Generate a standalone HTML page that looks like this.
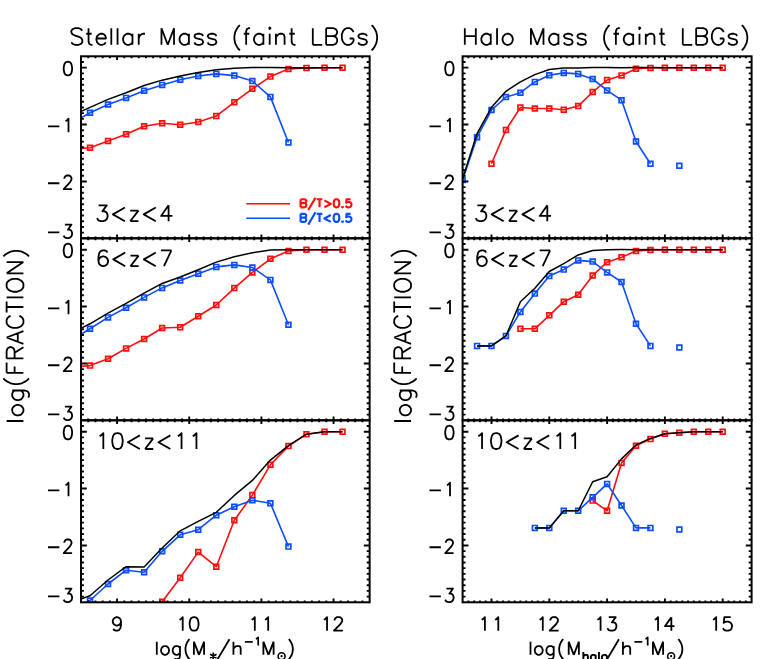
<!DOCTYPE html>
<html><head><meta charset="utf-8"><title>Fractions of faint LBGs</title>
<style>html,body{margin:0;padding:0;background:#fff;font-family:"Liberation Sans",sans-serif}svg{display:block}</style>
</head><body>
<svg width="763" height="659" viewBox="0 0 763 659">
<rect width="763" height="659" fill="#fff"/>
<defs>
<clipPath id="c00"><rect x="81.00" y="56.30" width="288.64" height="182.00"/></clipPath>
<clipPath id="c01"><rect x="81.00" y="238.30" width="288.64" height="182.00"/></clipPath>
<clipPath id="c02"><rect x="81.00" y="420.30" width="288.64" height="182.00"/></clipPath>
<clipPath id="c10"><rect x="462.60" y="56.30" width="289.00" height="182.00"/></clipPath>
<clipPath id="c11"><rect x="462.60" y="238.30" width="289.00" height="182.00"/></clipPath>
<clipPath id="c12"><rect x="462.60" y="420.30" width="289.00" height="182.00"/></clipPath>
</defs>
<polyline points="71.96,149.00 90.00,147.80 108.04,140.90 126.08,134.20 144.12,126.20 162.16,123.20 180.20,124.80 198.24,122.00 216.28,116.10 234.32,102.20 252.36,88.80 270.40,76.60 288.44,69.00 306.48,67.90 324.52,67.70 342.56,67.70" fill="none" stroke="#ff0c0c" stroke-width="1.60" stroke-linejoin="round" clip-path="url(#c00)"/>
<path d="M69.56 146.60h4.80v4.80h-4.80z M87.60 145.40h4.80v4.80h-4.80z M105.64 138.50h4.80v4.80h-4.80z M123.68 131.80h4.80v4.80h-4.80z M141.72 123.80h4.80v4.80h-4.80z M159.76 120.80h4.80v4.80h-4.80z M177.80 122.40h4.80v4.80h-4.80z M195.84 119.60h4.80v4.80h-4.80z M213.88 113.70h4.80v4.80h-4.80z M231.92 99.80h4.80v4.80h-4.80z M249.96 86.40h4.80v4.80h-4.80z M268.00 74.20h4.80v4.80h-4.80z M286.04 66.60h4.80v4.80h-4.80z M304.08 65.50h4.80v4.80h-4.80z M322.12 65.30h4.80v4.80h-4.80z M340.16 65.30h4.80v4.80h-4.80z" fill="none" stroke="#ff0c0c" stroke-width="1.7" clip-path="url(#c00)"/>
<polyline points="71.96,123.00 90.00,112.80 108.04,104.50 126.08,97.90 144.12,90.80 162.16,84.90 180.20,79.80 198.24,76.00 216.28,73.90 234.32,75.60 252.36,81.10 270.40,96.90 288.44,142.50" fill="none" stroke="#0a4cff" stroke-width="1.60" stroke-linejoin="round" clip-path="url(#c00)"/>
<path d="M69.56 120.60h4.80v4.80h-4.80z M87.60 110.40h4.80v4.80h-4.80z M105.64 102.10h4.80v4.80h-4.80z M123.68 95.50h4.80v4.80h-4.80z M141.72 88.40h4.80v4.80h-4.80z M159.76 82.50h4.80v4.80h-4.80z M177.80 77.40h4.80v4.80h-4.80z M195.84 73.60h4.80v4.80h-4.80z M213.88 71.50h4.80v4.80h-4.80z M231.92 73.20h4.80v4.80h-4.80z M249.96 78.70h4.80v4.80h-4.80z M268.00 94.50h4.80v4.80h-4.80z M286.04 140.10h4.80v4.80h-4.80z" fill="none" stroke="#0a4cff" stroke-width="1.7" clip-path="url(#c00)"/>
<polyline points="71.96,115.61 90.00,107.44 108.04,99.40 126.08,92.79 144.12,85.52 162.16,80.15 180.20,76.10 198.24,72.43 216.28,69.79 234.32,68.36 252.36,67.53 270.40,67.60 288.44,67.77 306.48,67.90 324.52,67.70 342.56,67.70" fill="none" stroke="#000" stroke-width="1.50" stroke-linejoin="round" clip-path="url(#c00)"/>
<polyline points="71.96,367.20 90.00,365.60 108.04,358.75 126.08,348.40 144.12,339.00 162.16,328.00 180.20,327.20 198.24,316.20 216.28,305.00 234.32,288.10 252.36,272.40 270.40,258.80 288.44,251.00 306.48,249.80 324.52,249.70 342.56,249.70" fill="none" stroke="#ff0c0c" stroke-width="1.60" stroke-linejoin="round" clip-path="url(#c01)"/>
<path d="M69.56 364.80h4.80v4.80h-4.80z M87.60 363.20h4.80v4.80h-4.80z M105.64 356.35h4.80v4.80h-4.80z M123.68 346.00h4.80v4.80h-4.80z M141.72 336.60h4.80v4.80h-4.80z M159.76 325.60h4.80v4.80h-4.80z M177.80 324.80h4.80v4.80h-4.80z M195.84 313.80h4.80v4.80h-4.80z M213.88 302.60h4.80v4.80h-4.80z M231.92 285.70h4.80v4.80h-4.80z M249.96 270.00h4.80v4.80h-4.80z M268.00 256.40h4.80v4.80h-4.80z M286.04 248.60h4.80v4.80h-4.80z M304.08 247.40h4.80v4.80h-4.80z M322.12 247.30h4.80v4.80h-4.80z M340.16 247.30h4.80v4.80h-4.80z" fill="none" stroke="#ff0c0c" stroke-width="1.7" clip-path="url(#c01)"/>
<polyline points="71.96,339.80 90.00,328.80 108.04,317.40 126.08,307.80 144.12,297.40 162.16,287.90 180.20,280.50 198.24,273.80 216.28,266.90 234.32,264.90 252.36,267.50 270.40,279.90 288.44,324.70" fill="none" stroke="#0a4cff" stroke-width="1.60" stroke-linejoin="round" clip-path="url(#c01)"/>
<path d="M69.56 337.40h4.80v4.80h-4.80z M87.60 326.40h4.80v4.80h-4.80z M105.64 315.00h4.80v4.80h-4.80z M123.68 305.40h4.80v4.80h-4.80z M141.72 295.00h4.80v4.80h-4.80z M159.76 285.50h4.80v4.80h-4.80z M177.80 278.10h4.80v4.80h-4.80z M195.84 271.40h4.80v4.80h-4.80z M213.88 264.50h4.80v4.80h-4.80z M231.92 262.50h4.80v4.80h-4.80z M249.96 265.10h4.80v4.80h-4.80z M268.00 277.50h4.80v4.80h-4.80z M286.04 322.30h4.80v4.80h-4.80z" fill="none" stroke="#0a4cff" stroke-width="1.7" clip-path="url(#c01)"/>
<polyline points="71.96,332.76 90.00,323.78 108.04,313.16 126.08,303.44 144.12,293.19 162.16,283.45 180.20,277.03 198.24,269.72 216.28,262.11 234.32,256.75 252.36,252.71 270.40,250.04 288.44,249.78 306.48,249.80 324.52,249.70 342.56,249.70" fill="none" stroke="#000" stroke-width="1.50" stroke-linejoin="round" clip-path="url(#c01)"/>
<polyline points="144.12,640.00 162.16,601.70 180.20,577.70 198.24,552.10 216.28,566.70 234.32,520.30 252.36,495.10 270.40,464.80 288.44,446.10 306.48,434.20 324.52,431.80 342.56,431.70" fill="none" stroke="#ff0c0c" stroke-width="1.60" stroke-linejoin="round" clip-path="url(#c02)"/>
<path d="M141.72 637.60h4.80v4.80h-4.80z M159.76 599.30h4.80v4.80h-4.80z M177.80 575.30h4.80v4.80h-4.80z M195.84 549.70h4.80v4.80h-4.80z M213.88 564.30h4.80v4.80h-4.80z M231.92 517.90h4.80v4.80h-4.80z M249.96 492.70h4.80v4.80h-4.80z M268.00 462.40h4.80v4.80h-4.80z M286.04 443.70h4.80v4.80h-4.80z M304.08 431.80h4.80v4.80h-4.80z M322.12 429.40h4.80v4.80h-4.80z M340.16 429.30h4.80v4.80h-4.80z" fill="none" stroke="#ff0c0c" stroke-width="1.7" clip-path="url(#c02)"/>
<polyline points="71.96,610.00 90.00,600.50 108.04,584.00 126.08,570.20 144.12,572.20 162.16,551.30 180.20,534.80 198.24,529.70 216.28,515.20 234.32,506.70 252.36,500.20 270.40,503.20 288.44,546.60" fill="none" stroke="#0a4cff" stroke-width="1.60" stroke-linejoin="round" clip-path="url(#c02)"/>
<path d="M69.56 607.60h4.80v4.80h-4.80z M87.60 598.10h4.80v4.80h-4.80z M105.64 581.60h4.80v4.80h-4.80z M123.68 567.80h4.80v4.80h-4.80z M141.72 569.80h4.80v4.80h-4.80z M159.76 548.90h4.80v4.80h-4.80z M177.80 532.40h4.80v4.80h-4.80z M195.84 527.30h4.80v4.80h-4.80z M213.88 512.80h4.80v4.80h-4.80z M231.92 504.30h4.80v4.80h-4.80z M249.96 497.80h4.80v4.80h-4.80z M268.00 500.80h4.80v4.80h-4.80z M286.04 544.20h4.80v4.80h-4.80z" fill="none" stroke="#0a4cff" stroke-width="1.7" clip-path="url(#c02)"/>
<polyline points="71.96,602.20 90.00,595.80 108.04,580.00 126.08,566.70 144.12,567.00 162.16,548.00 180.20,530.79 198.24,521.32 216.28,512.31 234.32,495.45 252.36,480.40 270.40,460.07 288.44,445.68 306.48,434.20 324.52,431.80 342.56,431.70" fill="none" stroke="#000" stroke-width="1.50" stroke-linejoin="round" clip-path="url(#c02)"/>
<polyline points="491.50,163.70 505.95,129.90 520.40,107.50 534.85,108.50 549.30,108.50 563.75,109.80 578.20,106.10 592.65,92.00 607.10,80.10 621.55,75.40 636.00,68.80 650.45,67.90 664.90,67.70 679.35,67.70 693.80,67.70 708.25,67.70 722.70,67.70" fill="none" stroke="#ff0c0c" stroke-width="1.60" stroke-linejoin="round" clip-path="url(#c10)"/>
<path d="M489.10 161.30h4.80v4.80h-4.80z M503.55 127.50h4.80v4.80h-4.80z M518.00 105.10h4.80v4.80h-4.80z M532.45 106.10h4.80v4.80h-4.80z M546.90 106.10h4.80v4.80h-4.80z M561.35 107.40h4.80v4.80h-4.80z M575.80 103.70h4.80v4.80h-4.80z M590.25 89.60h4.80v4.80h-4.80z M604.70 77.70h4.80v4.80h-4.80z M619.15 73.00h4.80v4.80h-4.80z M633.60 66.40h4.80v4.80h-4.80z M648.05 65.50h4.80v4.80h-4.80z M662.50 65.30h4.80v4.80h-4.80z M676.95 65.30h4.80v4.80h-4.80z M691.40 65.30h4.80v4.80h-4.80z M705.85 65.30h4.80v4.80h-4.80z M720.30 65.30h4.80v4.80h-4.80z" fill="none" stroke="#ff0c0c" stroke-width="1.7" clip-path="url(#c10)"/>
<polyline points="462.60,180.00 477.05,137.20 491.50,110.00 505.95,97.10 520.40,92.70 534.85,81.90 549.30,75.20 563.75,72.90 578.20,73.90 592.65,79.00 607.10,90.40 621.55,100.20 636.00,141.50 650.45,163.70" fill="none" stroke="#0a4cff" stroke-width="1.60" stroke-linejoin="round" clip-path="url(#c10)"/>
<path d="M460.20 177.60h4.80v4.80h-4.80z M474.65 134.80h4.80v4.80h-4.80z M489.10 107.60h4.80v4.80h-4.80z M503.55 94.70h4.80v4.80h-4.80z M518.00 90.30h4.80v4.80h-4.80z M532.45 79.50h4.80v4.80h-4.80z M546.90 72.80h4.80v4.80h-4.80z M561.35 70.50h4.80v4.80h-4.80z M575.80 71.50h4.80v4.80h-4.80z M590.25 76.60h4.80v4.80h-4.80z M604.70 88.00h4.80v4.80h-4.80z M619.15 97.80h4.80v4.80h-4.80z M633.60 139.10h4.80v4.80h-4.80z M648.05 161.30h4.80v4.80h-4.80z M676.95 163.30h4.80v4.80h-4.80z" fill="none" stroke="#0a4cff" stroke-width="1.7" clip-path="url(#c10)"/>
<polyline points="462.60,178.50 477.05,133.60 491.50,107.34 505.95,91.29 520.40,81.89 534.85,74.66 549.30,69.50 563.75,67.90 578.20,67.97 592.65,67.53 607.10,67.60 621.55,67.69 636.00,67.53 650.45,67.39 664.90,67.70 679.35,67.70 693.80,67.70 708.25,67.70 722.70,67.70" fill="none" stroke="#000" stroke-width="1.50" stroke-linejoin="round" clip-path="url(#c10)"/>
<polyline points="520.40,328.80 534.85,328.80 549.30,315.30 563.75,301.70 578.20,294.80 592.65,275.50 607.10,262.20 621.55,257.30 636.00,251.00 650.45,250.00 664.90,249.70 679.35,249.70 693.80,249.70 708.25,249.70 722.70,249.70" fill="none" stroke="#ff0c0c" stroke-width="1.60" stroke-linejoin="round" clip-path="url(#c11)"/>
<path d="M518.00 326.40h4.80v4.80h-4.80z M532.45 326.40h4.80v4.80h-4.80z M546.90 312.90h4.80v4.80h-4.80z M561.35 299.30h4.80v4.80h-4.80z M575.80 292.40h4.80v4.80h-4.80z M590.25 273.10h4.80v4.80h-4.80z M604.70 259.80h4.80v4.80h-4.80z M619.15 254.90h4.80v4.80h-4.80z M633.60 248.60h4.80v4.80h-4.80z M648.05 247.60h4.80v4.80h-4.80z M662.50 247.30h4.80v4.80h-4.80z M676.95 247.30h4.80v4.80h-4.80z M691.40 247.30h4.80v4.80h-4.80z M705.85 247.30h4.80v4.80h-4.80z M720.30 247.30h4.80v4.80h-4.80z" fill="none" stroke="#ff0c0c" stroke-width="1.7" clip-path="url(#c11)"/>
<polyline points="477.05,345.90 491.50,345.90 505.95,335.90 520.40,311.90 534.85,293.60 549.30,276.10 563.75,269.60 578.20,260.40 592.65,261.60 607.10,272.40 621.55,282.00 636.00,323.70 650.45,345.90" fill="none" stroke="#0a4cff" stroke-width="1.60" stroke-linejoin="round" clip-path="url(#c11)"/>
<path d="M474.65 343.50h4.80v4.80h-4.80z M489.10 343.50h4.80v4.80h-4.80z M503.55 333.50h4.80v4.80h-4.80z M518.00 309.50h4.80v4.80h-4.80z M532.45 291.20h4.80v4.80h-4.80z M546.90 273.70h4.80v4.80h-4.80z M561.35 267.20h4.80v4.80h-4.80z M575.80 258.00h4.80v4.80h-4.80z M590.25 259.20h4.80v4.80h-4.80z M604.70 270.00h4.80v4.80h-4.80z M619.15 279.60h4.80v4.80h-4.80z M633.60 321.30h4.80v4.80h-4.80z M648.05 343.50h4.80v4.80h-4.80z M676.95 345.10h4.80v4.80h-4.80z" fill="none" stroke="#0a4cff" stroke-width="1.7" clip-path="url(#c11)"/>
<polyline points="477.05,345.90 491.50,345.90 505.95,335.90 520.40,301.81 534.85,288.28 549.30,271.50 563.75,263.64 578.20,254.92 592.65,250.46 607.10,249.66 621.55,249.56 636.00,249.73 650.45,249.50 664.90,249.70 679.35,249.70 693.80,249.70 708.25,249.70 722.70,249.70" fill="none" stroke="#000" stroke-width="1.50" stroke-linejoin="round" clip-path="url(#c11)"/>
<polyline points="592.65,500.60 607.10,510.80 621.55,462.90 636.00,445.80 650.45,439.10 664.90,433.80 679.35,432.80 693.80,431.80 708.25,431.70 722.70,431.70" fill="none" stroke="#ff0c0c" stroke-width="1.60" stroke-linejoin="round" clip-path="url(#c12)"/>
<path d="M590.25 498.20h4.80v4.80h-4.80z M604.70 508.40h4.80v4.80h-4.80z M619.15 460.50h4.80v4.80h-4.80z M633.60 443.40h4.80v4.80h-4.80z M648.05 436.70h4.80v4.80h-4.80z M662.50 431.40h4.80v4.80h-4.80z M676.95 430.40h4.80v4.80h-4.80z M691.40 429.40h4.80v4.80h-4.80z M705.85 429.30h4.80v4.80h-4.80z M720.30 429.30h4.80v4.80h-4.80z" fill="none" stroke="#ff0c0c" stroke-width="1.7" clip-path="url(#c12)"/>
<polyline points="534.85,527.90 549.30,527.90 563.75,510.80 578.20,510.80 592.65,497.30 607.10,483.90 621.55,505.50 636.00,527.90 650.45,527.90" fill="none" stroke="#0a4cff" stroke-width="1.60" stroke-linejoin="round" clip-path="url(#c12)"/>
<path d="M532.45 525.50h4.80v4.80h-4.80z M546.90 525.50h4.80v4.80h-4.80z M561.35 508.40h4.80v4.80h-4.80z M575.80 508.40h4.80v4.80h-4.80z M590.25 494.90h4.80v4.80h-4.80z M604.70 481.50h4.80v4.80h-4.80z M619.15 503.10h4.80v4.80h-4.80z M633.60 525.50h4.80v4.80h-4.80z M648.05 525.50h4.80v4.80h-4.80z M676.95 527.10h4.80v4.80h-4.80z" fill="none" stroke="#0a4cff" stroke-width="1.7" clip-path="url(#c12)"/>
<polyline points="534.85,527.90 549.30,527.90 563.75,510.80 578.20,510.80 592.65,481.77 607.10,476.73 621.55,458.85 636.00,444.93 650.45,438.43 664.90,433.80 679.35,432.80 693.80,431.80 708.25,431.70 722.70,431.70" fill="none" stroke="#000" stroke-width="1.50" stroke-linejoin="round" clip-path="url(#c12)"/>
<path d="M88.22 238.30v-1.85 M88.22 56.30v1.85 M95.43 238.30v-1.85 M95.43 56.30v1.85 M102.65 238.30v-1.85 M102.65 56.30v1.85 M109.86 238.30v-1.85 M109.86 56.30v1.85 M117.08 238.30v-3.70 M117.08 56.30v3.70 M124.30 238.30v-1.85 M124.30 56.30v1.85 M131.51 238.30v-1.85 M131.51 56.30v1.85 M138.73 238.30v-1.85 M138.73 56.30v1.85 M145.94 238.30v-1.85 M145.94 56.30v1.85 M153.16 238.30v-1.85 M153.16 56.30v1.85 M160.38 238.30v-1.85 M160.38 56.30v1.85 M167.59 238.30v-1.85 M167.59 56.30v1.85 M174.81 238.30v-1.85 M174.81 56.30v1.85 M182.02 238.30v-1.85 M182.02 56.30v1.85 M189.24 238.30v-3.70 M189.24 56.30v3.70 M196.46 238.30v-1.85 M196.46 56.30v1.85 M203.67 238.30v-1.85 M203.67 56.30v1.85 M210.89 238.30v-1.85 M210.89 56.30v1.85 M218.10 238.30v-1.85 M218.10 56.30v1.85 M225.32 238.30v-1.85 M225.32 56.30v1.85 M232.54 238.30v-1.85 M232.54 56.30v1.85 M239.75 238.30v-1.85 M239.75 56.30v1.85 M246.97 238.30v-1.85 M246.97 56.30v1.85 M254.18 238.30v-1.85 M254.18 56.30v1.85 M261.40 238.30v-3.70 M261.40 56.30v3.70 M268.62 238.30v-1.85 M268.62 56.30v1.85 M275.83 238.30v-1.85 M275.83 56.30v1.85 M283.05 238.30v-1.85 M283.05 56.30v1.85 M290.26 238.30v-1.85 M290.26 56.30v1.85 M297.48 238.30v-1.85 M297.48 56.30v1.85 M304.70 238.30v-1.85 M304.70 56.30v1.85 M311.91 238.30v-1.85 M311.91 56.30v1.85 M319.13 238.30v-1.85 M319.13 56.30v1.85 M326.34 238.30v-1.85 M326.34 56.30v1.85 M333.56 238.30v-3.70 M333.56 56.30v3.70 M340.78 238.30v-1.85 M340.78 56.30v1.85 M347.99 238.30v-1.85 M347.99 56.30v1.85 M355.21 238.30v-1.85 M355.21 56.30v1.85 M362.42 238.30v-1.85 M362.42 56.30v1.85 M81.00 232.61h2.90 M369.64 232.61h-2.90 M81.00 226.93h2.90 M369.64 226.93h-2.90 M81.00 221.24h2.90 M369.64 221.24h-2.90 M81.00 215.55h2.90 M369.64 215.55h-2.90 M81.00 209.86h2.90 M369.64 209.86h-2.90 M81.00 204.18h2.90 M369.64 204.18h-2.90 M81.00 198.49h2.90 M369.64 198.49h-2.90 M81.00 192.80h2.90 M369.64 192.80h-2.90 M81.00 187.11h2.90 M369.64 187.11h-2.90 M81.00 181.43h5.80 M369.64 181.43h-5.80 M81.00 175.74h2.90 M369.64 175.74h-2.90 M81.00 170.05h2.90 M369.64 170.05h-2.90 M81.00 164.36h2.90 M369.64 164.36h-2.90 M81.00 158.68h2.90 M369.64 158.68h-2.90 M81.00 152.99h2.90 M369.64 152.99h-2.90 M81.00 147.30h2.90 M369.64 147.30h-2.90 M81.00 141.61h2.90 M369.64 141.61h-2.90 M81.00 135.93h2.90 M369.64 135.93h-2.90 M81.00 130.24h2.90 M369.64 130.24h-2.90 M81.00 124.55h5.80 M369.64 124.55h-5.80 M81.00 118.86h2.90 M369.64 118.86h-2.90 M81.00 113.17h2.90 M369.64 113.17h-2.90 M81.00 107.49h2.90 M369.64 107.49h-2.90 M81.00 101.80h2.90 M369.64 101.80h-2.90 M81.00 96.11h2.90 M369.64 96.11h-2.90 M81.00 90.43h2.90 M369.64 90.43h-2.90 M81.00 84.74h2.90 M369.64 84.74h-2.90 M81.00 79.05h2.90 M369.64 79.05h-2.90 M81.00 73.36h2.90 M369.64 73.36h-2.90 M81.00 67.67h5.80 M369.64 67.67h-5.80 M81.00 61.99h2.90 M369.64 61.99h-2.90" fill="none" stroke="#000" stroke-width="1.90"/>
<rect x="81.00" y="56.30" width="288.64" height="182.00" fill="none" stroke="#000" stroke-width="2.00"/>
<path d="M88.22 420.30v-1.85 M88.22 238.30v1.85 M95.43 420.30v-1.85 M95.43 238.30v1.85 M102.65 420.30v-1.85 M102.65 238.30v1.85 M109.86 420.30v-1.85 M109.86 238.30v1.85 M117.08 420.30v-3.70 M117.08 238.30v3.70 M124.30 420.30v-1.85 M124.30 238.30v1.85 M131.51 420.30v-1.85 M131.51 238.30v1.85 M138.73 420.30v-1.85 M138.73 238.30v1.85 M145.94 420.30v-1.85 M145.94 238.30v1.85 M153.16 420.30v-1.85 M153.16 238.30v1.85 M160.38 420.30v-1.85 M160.38 238.30v1.85 M167.59 420.30v-1.85 M167.59 238.30v1.85 M174.81 420.30v-1.85 M174.81 238.30v1.85 M182.02 420.30v-1.85 M182.02 238.30v1.85 M189.24 420.30v-3.70 M189.24 238.30v3.70 M196.46 420.30v-1.85 M196.46 238.30v1.85 M203.67 420.30v-1.85 M203.67 238.30v1.85 M210.89 420.30v-1.85 M210.89 238.30v1.85 M218.10 420.30v-1.85 M218.10 238.30v1.85 M225.32 420.30v-1.85 M225.32 238.30v1.85 M232.54 420.30v-1.85 M232.54 238.30v1.85 M239.75 420.30v-1.85 M239.75 238.30v1.85 M246.97 420.30v-1.85 M246.97 238.30v1.85 M254.18 420.30v-1.85 M254.18 238.30v1.85 M261.40 420.30v-3.70 M261.40 238.30v3.70 M268.62 420.30v-1.85 M268.62 238.30v1.85 M275.83 420.30v-1.85 M275.83 238.30v1.85 M283.05 420.30v-1.85 M283.05 238.30v1.85 M290.26 420.30v-1.85 M290.26 238.30v1.85 M297.48 420.30v-1.85 M297.48 238.30v1.85 M304.70 420.30v-1.85 M304.70 238.30v1.85 M311.91 420.30v-1.85 M311.91 238.30v1.85 M319.13 420.30v-1.85 M319.13 238.30v1.85 M326.34 420.30v-1.85 M326.34 238.30v1.85 M333.56 420.30v-3.70 M333.56 238.30v3.70 M340.78 420.30v-1.85 M340.78 238.30v1.85 M347.99 420.30v-1.85 M347.99 238.30v1.85 M355.21 420.30v-1.85 M355.21 238.30v1.85 M362.42 420.30v-1.85 M362.42 238.30v1.85 M81.00 414.61h2.90 M369.64 414.61h-2.90 M81.00 408.93h2.90 M369.64 408.93h-2.90 M81.00 403.24h2.90 M369.64 403.24h-2.90 M81.00 397.55h2.90 M369.64 397.55h-2.90 M81.00 391.86h2.90 M369.64 391.86h-2.90 M81.00 386.18h2.90 M369.64 386.18h-2.90 M81.00 380.49h2.90 M369.64 380.49h-2.90 M81.00 374.80h2.90 M369.64 374.80h-2.90 M81.00 369.11h2.90 M369.64 369.11h-2.90 M81.00 363.43h5.80 M369.64 363.43h-5.80 M81.00 357.74h2.90 M369.64 357.74h-2.90 M81.00 352.05h2.90 M369.64 352.05h-2.90 M81.00 346.36h2.90 M369.64 346.36h-2.90 M81.00 340.68h2.90 M369.64 340.68h-2.90 M81.00 334.99h2.90 M369.64 334.99h-2.90 M81.00 329.30h2.90 M369.64 329.30h-2.90 M81.00 323.61h2.90 M369.64 323.61h-2.90 M81.00 317.93h2.90 M369.64 317.93h-2.90 M81.00 312.24h2.90 M369.64 312.24h-2.90 M81.00 306.55h5.80 M369.64 306.55h-5.80 M81.00 300.86h2.90 M369.64 300.86h-2.90 M81.00 295.18h2.90 M369.64 295.18h-2.90 M81.00 289.49h2.90 M369.64 289.49h-2.90 M81.00 283.80h2.90 M369.64 283.80h-2.90 M81.00 278.11h2.90 M369.64 278.11h-2.90 M81.00 272.43h2.90 M369.64 272.43h-2.90 M81.00 266.74h2.90 M369.64 266.74h-2.90 M81.00 261.05h2.90 M369.64 261.05h-2.90 M81.00 255.36h2.90 M369.64 255.36h-2.90 M81.00 249.68h5.80 M369.64 249.68h-5.80 M81.00 243.99h2.90 M369.64 243.99h-2.90" fill="none" stroke="#000" stroke-width="1.90"/>
<rect x="81.00" y="238.30" width="288.64" height="182.00" fill="none" stroke="#000" stroke-width="2.00"/>
<path d="M88.22 602.30v-1.85 M88.22 420.30v1.85 M95.43 602.30v-1.85 M95.43 420.30v1.85 M102.65 602.30v-1.85 M102.65 420.30v1.85 M109.86 602.30v-1.85 M109.86 420.30v1.85 M117.08 602.30v-3.70 M117.08 420.30v3.70 M124.30 602.30v-1.85 M124.30 420.30v1.85 M131.51 602.30v-1.85 M131.51 420.30v1.85 M138.73 602.30v-1.85 M138.73 420.30v1.85 M145.94 602.30v-1.85 M145.94 420.30v1.85 M153.16 602.30v-1.85 M153.16 420.30v1.85 M160.38 602.30v-1.85 M160.38 420.30v1.85 M167.59 602.30v-1.85 M167.59 420.30v1.85 M174.81 602.30v-1.85 M174.81 420.30v1.85 M182.02 602.30v-1.85 M182.02 420.30v1.85 M189.24 602.30v-3.70 M189.24 420.30v3.70 M196.46 602.30v-1.85 M196.46 420.30v1.85 M203.67 602.30v-1.85 M203.67 420.30v1.85 M210.89 602.30v-1.85 M210.89 420.30v1.85 M218.10 602.30v-1.85 M218.10 420.30v1.85 M225.32 602.30v-1.85 M225.32 420.30v1.85 M232.54 602.30v-1.85 M232.54 420.30v1.85 M239.75 602.30v-1.85 M239.75 420.30v1.85 M246.97 602.30v-1.85 M246.97 420.30v1.85 M254.18 602.30v-1.85 M254.18 420.30v1.85 M261.40 602.30v-3.70 M261.40 420.30v3.70 M268.62 602.30v-1.85 M268.62 420.30v1.85 M275.83 602.30v-1.85 M275.83 420.30v1.85 M283.05 602.30v-1.85 M283.05 420.30v1.85 M290.26 602.30v-1.85 M290.26 420.30v1.85 M297.48 602.30v-1.85 M297.48 420.30v1.85 M304.70 602.30v-1.85 M304.70 420.30v1.85 M311.91 602.30v-1.85 M311.91 420.30v1.85 M319.13 602.30v-1.85 M319.13 420.30v1.85 M326.34 602.30v-1.85 M326.34 420.30v1.85 M333.56 602.30v-3.70 M333.56 420.30v3.70 M340.78 602.30v-1.85 M340.78 420.30v1.85 M347.99 602.30v-1.85 M347.99 420.30v1.85 M355.21 602.30v-1.85 M355.21 420.30v1.85 M362.42 602.30v-1.85 M362.42 420.30v1.85 M81.00 596.61h2.90 M369.64 596.61h-2.90 M81.00 590.92h2.90 M369.64 590.92h-2.90 M81.00 585.24h2.90 M369.64 585.24h-2.90 M81.00 579.55h2.90 M369.64 579.55h-2.90 M81.00 573.86h2.90 M369.64 573.86h-2.90 M81.00 568.17h2.90 M369.64 568.17h-2.90 M81.00 562.49h2.90 M369.64 562.49h-2.90 M81.00 556.80h2.90 M369.64 556.80h-2.90 M81.00 551.11h2.90 M369.64 551.11h-2.90 M81.00 545.43h5.80 M369.64 545.43h-5.80 M81.00 539.74h2.90 M369.64 539.74h-2.90 M81.00 534.05h2.90 M369.64 534.05h-2.90 M81.00 528.36h2.90 M369.64 528.36h-2.90 M81.00 522.67h2.90 M369.64 522.67h-2.90 M81.00 516.99h2.90 M369.64 516.99h-2.90 M81.00 511.30h2.90 M369.64 511.30h-2.90 M81.00 505.61h2.90 M369.64 505.61h-2.90 M81.00 499.93h2.90 M369.64 499.93h-2.90 M81.00 494.24h2.90 M369.64 494.24h-2.90 M81.00 488.55h5.80 M369.64 488.55h-5.80 M81.00 482.86h2.90 M369.64 482.86h-2.90 M81.00 477.18h2.90 M369.64 477.18h-2.90 M81.00 471.49h2.90 M369.64 471.49h-2.90 M81.00 465.80h2.90 M369.64 465.80h-2.90 M81.00 460.11h2.90 M369.64 460.11h-2.90 M81.00 454.43h2.90 M369.64 454.43h-2.90 M81.00 448.74h2.90 M369.64 448.74h-2.90 M81.00 443.05h2.90 M369.64 443.05h-2.90 M81.00 437.36h2.90 M369.64 437.36h-2.90 M81.00 431.68h5.80 M369.64 431.68h-5.80 M81.00 425.99h2.90 M369.64 425.99h-2.90" fill="none" stroke="#000" stroke-width="1.90"/>
<rect x="81.00" y="420.30" width="288.64" height="182.00" fill="none" stroke="#000" stroke-width="2.00"/>
<path d="M468.38 238.30v-1.85 M468.38 56.30v1.85 M474.16 238.30v-1.85 M474.16 56.30v1.85 M479.94 238.30v-1.85 M479.94 56.30v1.85 M485.72 238.30v-1.85 M485.72 56.30v1.85 M491.50 238.30v-3.70 M491.50 56.30v3.70 M497.28 238.30v-1.85 M497.28 56.30v1.85 M503.06 238.30v-1.85 M503.06 56.30v1.85 M508.84 238.30v-1.85 M508.84 56.30v1.85 M514.62 238.30v-1.85 M514.62 56.30v1.85 M520.40 238.30v-1.85 M520.40 56.30v1.85 M526.18 238.30v-1.85 M526.18 56.30v1.85 M531.96 238.30v-1.85 M531.96 56.30v1.85 M537.74 238.30v-1.85 M537.74 56.30v1.85 M543.52 238.30v-1.85 M543.52 56.30v1.85 M549.30 238.30v-3.70 M549.30 56.30v3.70 M555.08 238.30v-1.85 M555.08 56.30v1.85 M560.86 238.30v-1.85 M560.86 56.30v1.85 M566.64 238.30v-1.85 M566.64 56.30v1.85 M572.42 238.30v-1.85 M572.42 56.30v1.85 M578.20 238.30v-1.85 M578.20 56.30v1.85 M583.98 238.30v-1.85 M583.98 56.30v1.85 M589.76 238.30v-1.85 M589.76 56.30v1.85 M595.54 238.30v-1.85 M595.54 56.30v1.85 M601.32 238.30v-1.85 M601.32 56.30v1.85 M607.10 238.30v-3.70 M607.10 56.30v3.70 M612.88 238.30v-1.85 M612.88 56.30v1.85 M618.66 238.30v-1.85 M618.66 56.30v1.85 M624.44 238.30v-1.85 M624.44 56.30v1.85 M630.22 238.30v-1.85 M630.22 56.30v1.85 M636.00 238.30v-1.85 M636.00 56.30v1.85 M641.78 238.30v-1.85 M641.78 56.30v1.85 M647.56 238.30v-1.85 M647.56 56.30v1.85 M653.34 238.30v-1.85 M653.34 56.30v1.85 M659.12 238.30v-1.85 M659.12 56.30v1.85 M664.90 238.30v-3.70 M664.90 56.30v3.70 M670.68 238.30v-1.85 M670.68 56.30v1.85 M676.46 238.30v-1.85 M676.46 56.30v1.85 M682.24 238.30v-1.85 M682.24 56.30v1.85 M688.02 238.30v-1.85 M688.02 56.30v1.85 M693.80 238.30v-1.85 M693.80 56.30v1.85 M699.58 238.30v-1.85 M699.58 56.30v1.85 M705.36 238.30v-1.85 M705.36 56.30v1.85 M711.14 238.30v-1.85 M711.14 56.30v1.85 M716.92 238.30v-1.85 M716.92 56.30v1.85 M722.70 238.30v-3.70 M722.70 56.30v3.70 M728.48 238.30v-1.85 M728.48 56.30v1.85 M734.26 238.30v-1.85 M734.26 56.30v1.85 M740.04 238.30v-1.85 M740.04 56.30v1.85 M745.82 238.30v-1.85 M745.82 56.30v1.85 M462.60 232.61h2.90 M751.60 232.61h-2.90 M462.60 226.93h2.90 M751.60 226.93h-2.90 M462.60 221.24h2.90 M751.60 221.24h-2.90 M462.60 215.55h2.90 M751.60 215.55h-2.90 M462.60 209.86h2.90 M751.60 209.86h-2.90 M462.60 204.18h2.90 M751.60 204.18h-2.90 M462.60 198.49h2.90 M751.60 198.49h-2.90 M462.60 192.80h2.90 M751.60 192.80h-2.90 M462.60 187.11h2.90 M751.60 187.11h-2.90 M462.60 181.43h5.80 M751.60 181.43h-5.80 M462.60 175.74h2.90 M751.60 175.74h-2.90 M462.60 170.05h2.90 M751.60 170.05h-2.90 M462.60 164.36h2.90 M751.60 164.36h-2.90 M462.60 158.68h2.90 M751.60 158.68h-2.90 M462.60 152.99h2.90 M751.60 152.99h-2.90 M462.60 147.30h2.90 M751.60 147.30h-2.90 M462.60 141.61h2.90 M751.60 141.61h-2.90 M462.60 135.93h2.90 M751.60 135.93h-2.90 M462.60 130.24h2.90 M751.60 130.24h-2.90 M462.60 124.55h5.80 M751.60 124.55h-5.80 M462.60 118.86h2.90 M751.60 118.86h-2.90 M462.60 113.17h2.90 M751.60 113.17h-2.90 M462.60 107.49h2.90 M751.60 107.49h-2.90 M462.60 101.80h2.90 M751.60 101.80h-2.90 M462.60 96.11h2.90 M751.60 96.11h-2.90 M462.60 90.43h2.90 M751.60 90.43h-2.90 M462.60 84.74h2.90 M751.60 84.74h-2.90 M462.60 79.05h2.90 M751.60 79.05h-2.90 M462.60 73.36h2.90 M751.60 73.36h-2.90 M462.60 67.67h5.80 M751.60 67.67h-5.80 M462.60 61.99h2.90 M751.60 61.99h-2.90" fill="none" stroke="#000" stroke-width="1.90"/>
<rect x="462.60" y="56.30" width="289.00" height="182.00" fill="none" stroke="#000" stroke-width="2.00"/>
<path d="M468.38 420.30v-1.85 M468.38 238.30v1.85 M474.16 420.30v-1.85 M474.16 238.30v1.85 M479.94 420.30v-1.85 M479.94 238.30v1.85 M485.72 420.30v-1.85 M485.72 238.30v1.85 M491.50 420.30v-3.70 M491.50 238.30v3.70 M497.28 420.30v-1.85 M497.28 238.30v1.85 M503.06 420.30v-1.85 M503.06 238.30v1.85 M508.84 420.30v-1.85 M508.84 238.30v1.85 M514.62 420.30v-1.85 M514.62 238.30v1.85 M520.40 420.30v-1.85 M520.40 238.30v1.85 M526.18 420.30v-1.85 M526.18 238.30v1.85 M531.96 420.30v-1.85 M531.96 238.30v1.85 M537.74 420.30v-1.85 M537.74 238.30v1.85 M543.52 420.30v-1.85 M543.52 238.30v1.85 M549.30 420.30v-3.70 M549.30 238.30v3.70 M555.08 420.30v-1.85 M555.08 238.30v1.85 M560.86 420.30v-1.85 M560.86 238.30v1.85 M566.64 420.30v-1.85 M566.64 238.30v1.85 M572.42 420.30v-1.85 M572.42 238.30v1.85 M578.20 420.30v-1.85 M578.20 238.30v1.85 M583.98 420.30v-1.85 M583.98 238.30v1.85 M589.76 420.30v-1.85 M589.76 238.30v1.85 M595.54 420.30v-1.85 M595.54 238.30v1.85 M601.32 420.30v-1.85 M601.32 238.30v1.85 M607.10 420.30v-3.70 M607.10 238.30v3.70 M612.88 420.30v-1.85 M612.88 238.30v1.85 M618.66 420.30v-1.85 M618.66 238.30v1.85 M624.44 420.30v-1.85 M624.44 238.30v1.85 M630.22 420.30v-1.85 M630.22 238.30v1.85 M636.00 420.30v-1.85 M636.00 238.30v1.85 M641.78 420.30v-1.85 M641.78 238.30v1.85 M647.56 420.30v-1.85 M647.56 238.30v1.85 M653.34 420.30v-1.85 M653.34 238.30v1.85 M659.12 420.30v-1.85 M659.12 238.30v1.85 M664.90 420.30v-3.70 M664.90 238.30v3.70 M670.68 420.30v-1.85 M670.68 238.30v1.85 M676.46 420.30v-1.85 M676.46 238.30v1.85 M682.24 420.30v-1.85 M682.24 238.30v1.85 M688.02 420.30v-1.85 M688.02 238.30v1.85 M693.80 420.30v-1.85 M693.80 238.30v1.85 M699.58 420.30v-1.85 M699.58 238.30v1.85 M705.36 420.30v-1.85 M705.36 238.30v1.85 M711.14 420.30v-1.85 M711.14 238.30v1.85 M716.92 420.30v-1.85 M716.92 238.30v1.85 M722.70 420.30v-3.70 M722.70 238.30v3.70 M728.48 420.30v-1.85 M728.48 238.30v1.85 M734.26 420.30v-1.85 M734.26 238.30v1.85 M740.04 420.30v-1.85 M740.04 238.30v1.85 M745.82 420.30v-1.85 M745.82 238.30v1.85 M462.60 414.61h2.90 M751.60 414.61h-2.90 M462.60 408.93h2.90 M751.60 408.93h-2.90 M462.60 403.24h2.90 M751.60 403.24h-2.90 M462.60 397.55h2.90 M751.60 397.55h-2.90 M462.60 391.86h2.90 M751.60 391.86h-2.90 M462.60 386.18h2.90 M751.60 386.18h-2.90 M462.60 380.49h2.90 M751.60 380.49h-2.90 M462.60 374.80h2.90 M751.60 374.80h-2.90 M462.60 369.11h2.90 M751.60 369.11h-2.90 M462.60 363.43h5.80 M751.60 363.43h-5.80 M462.60 357.74h2.90 M751.60 357.74h-2.90 M462.60 352.05h2.90 M751.60 352.05h-2.90 M462.60 346.36h2.90 M751.60 346.36h-2.90 M462.60 340.68h2.90 M751.60 340.68h-2.90 M462.60 334.99h2.90 M751.60 334.99h-2.90 M462.60 329.30h2.90 M751.60 329.30h-2.90 M462.60 323.61h2.90 M751.60 323.61h-2.90 M462.60 317.93h2.90 M751.60 317.93h-2.90 M462.60 312.24h2.90 M751.60 312.24h-2.90 M462.60 306.55h5.80 M751.60 306.55h-5.80 M462.60 300.86h2.90 M751.60 300.86h-2.90 M462.60 295.18h2.90 M751.60 295.18h-2.90 M462.60 289.49h2.90 M751.60 289.49h-2.90 M462.60 283.80h2.90 M751.60 283.80h-2.90 M462.60 278.11h2.90 M751.60 278.11h-2.90 M462.60 272.43h2.90 M751.60 272.43h-2.90 M462.60 266.74h2.90 M751.60 266.74h-2.90 M462.60 261.05h2.90 M751.60 261.05h-2.90 M462.60 255.36h2.90 M751.60 255.36h-2.90 M462.60 249.68h5.80 M751.60 249.68h-5.80 M462.60 243.99h2.90 M751.60 243.99h-2.90" fill="none" stroke="#000" stroke-width="1.90"/>
<rect x="462.60" y="238.30" width="289.00" height="182.00" fill="none" stroke="#000" stroke-width="2.00"/>
<path d="M468.38 602.30v-1.85 M468.38 420.30v1.85 M474.16 602.30v-1.85 M474.16 420.30v1.85 M479.94 602.30v-1.85 M479.94 420.30v1.85 M485.72 602.30v-1.85 M485.72 420.30v1.85 M491.50 602.30v-3.70 M491.50 420.30v3.70 M497.28 602.30v-1.85 M497.28 420.30v1.85 M503.06 602.30v-1.85 M503.06 420.30v1.85 M508.84 602.30v-1.85 M508.84 420.30v1.85 M514.62 602.30v-1.85 M514.62 420.30v1.85 M520.40 602.30v-1.85 M520.40 420.30v1.85 M526.18 602.30v-1.85 M526.18 420.30v1.85 M531.96 602.30v-1.85 M531.96 420.30v1.85 M537.74 602.30v-1.85 M537.74 420.30v1.85 M543.52 602.30v-1.85 M543.52 420.30v1.85 M549.30 602.30v-3.70 M549.30 420.30v3.70 M555.08 602.30v-1.85 M555.08 420.30v1.85 M560.86 602.30v-1.85 M560.86 420.30v1.85 M566.64 602.30v-1.85 M566.64 420.30v1.85 M572.42 602.30v-1.85 M572.42 420.30v1.85 M578.20 602.30v-1.85 M578.20 420.30v1.85 M583.98 602.30v-1.85 M583.98 420.30v1.85 M589.76 602.30v-1.85 M589.76 420.30v1.85 M595.54 602.30v-1.85 M595.54 420.30v1.85 M601.32 602.30v-1.85 M601.32 420.30v1.85 M607.10 602.30v-3.70 M607.10 420.30v3.70 M612.88 602.30v-1.85 M612.88 420.30v1.85 M618.66 602.30v-1.85 M618.66 420.30v1.85 M624.44 602.30v-1.85 M624.44 420.30v1.85 M630.22 602.30v-1.85 M630.22 420.30v1.85 M636.00 602.30v-1.85 M636.00 420.30v1.85 M641.78 602.30v-1.85 M641.78 420.30v1.85 M647.56 602.30v-1.85 M647.56 420.30v1.85 M653.34 602.30v-1.85 M653.34 420.30v1.85 M659.12 602.30v-1.85 M659.12 420.30v1.85 M664.90 602.30v-3.70 M664.90 420.30v3.70 M670.68 602.30v-1.85 M670.68 420.30v1.85 M676.46 602.30v-1.85 M676.46 420.30v1.85 M682.24 602.30v-1.85 M682.24 420.30v1.85 M688.02 602.30v-1.85 M688.02 420.30v1.85 M693.80 602.30v-1.85 M693.80 420.30v1.85 M699.58 602.30v-1.85 M699.58 420.30v1.85 M705.36 602.30v-1.85 M705.36 420.30v1.85 M711.14 602.30v-1.85 M711.14 420.30v1.85 M716.92 602.30v-1.85 M716.92 420.30v1.85 M722.70 602.30v-3.70 M722.70 420.30v3.70 M728.48 602.30v-1.85 M728.48 420.30v1.85 M734.26 602.30v-1.85 M734.26 420.30v1.85 M740.04 602.30v-1.85 M740.04 420.30v1.85 M745.82 602.30v-1.85 M745.82 420.30v1.85 M462.60 596.61h2.90 M751.60 596.61h-2.90 M462.60 590.92h2.90 M751.60 590.92h-2.90 M462.60 585.24h2.90 M751.60 585.24h-2.90 M462.60 579.55h2.90 M751.60 579.55h-2.90 M462.60 573.86h2.90 M751.60 573.86h-2.90 M462.60 568.17h2.90 M751.60 568.17h-2.90 M462.60 562.49h2.90 M751.60 562.49h-2.90 M462.60 556.80h2.90 M751.60 556.80h-2.90 M462.60 551.11h2.90 M751.60 551.11h-2.90 M462.60 545.43h5.80 M751.60 545.43h-5.80 M462.60 539.74h2.90 M751.60 539.74h-2.90 M462.60 534.05h2.90 M751.60 534.05h-2.90 M462.60 528.36h2.90 M751.60 528.36h-2.90 M462.60 522.67h2.90 M751.60 522.67h-2.90 M462.60 516.99h2.90 M751.60 516.99h-2.90 M462.60 511.30h2.90 M751.60 511.30h-2.90 M462.60 505.61h2.90 M751.60 505.61h-2.90 M462.60 499.93h2.90 M751.60 499.93h-2.90 M462.60 494.24h2.90 M751.60 494.24h-2.90 M462.60 488.55h5.80 M751.60 488.55h-5.80 M462.60 482.86h2.90 M751.60 482.86h-2.90 M462.60 477.18h2.90 M751.60 477.18h-2.90 M462.60 471.49h2.90 M751.60 471.49h-2.90 M462.60 465.80h2.90 M751.60 465.80h-2.90 M462.60 460.11h2.90 M751.60 460.11h-2.90 M462.60 454.43h2.90 M751.60 454.43h-2.90 M462.60 448.74h2.90 M751.60 448.74h-2.90 M462.60 443.05h2.90 M751.60 443.05h-2.90 M462.60 437.36h2.90 M751.60 437.36h-2.90 M462.60 431.68h5.80 M751.60 431.68h-5.80 M462.60 425.99h2.90 M751.60 425.99h-2.90" fill="none" stroke="#000" stroke-width="1.90"/>
<rect x="462.60" y="420.30" width="289.00" height="182.00" fill="none" stroke="#000" stroke-width="2.00"/>
<path d="M82.28 30.58 L80.71 29.00 L78.36 28.21 L75.22 28.21 L72.87 29.00 L71.30 30.58 L71.30 32.16 L72.08 33.74 L72.87 34.53 L74.44 35.32 L79.14 36.90 L80.71 37.69 L81.49 38.48 L82.28 40.06 L82.28 42.43 L80.71 44.01 L78.36 44.80 L75.22 44.80 L72.87 44.01 L71.30 42.43 M88.55 28.21 L88.55 41.64 L89.33 44.01 L90.90 44.80 L92.47 44.80 M86.20 33.74 L91.69 33.74 M96.39 38.48 L105.80 38.48 L105.80 36.90 L105.02 35.32 L104.23 34.53 L102.66 33.74 L100.31 33.74 L98.74 34.53 L97.18 36.11 L96.39 38.48 L96.39 40.06 L97.18 42.43 L98.74 44.01 L100.31 44.80 L102.66 44.80 L104.23 44.01 L105.80 42.43 M111.29 28.21 L111.29 44.80 M117.56 28.21 L117.56 44.80 M132.46 33.74 L132.46 44.80 M132.46 36.11 L130.89 34.53 L129.32 33.74 L126.97 33.74 L125.40 34.53 L123.83 36.11 L123.05 38.48 L123.05 40.06 L123.83 42.43 L125.40 44.01 L126.97 44.80 L129.32 44.80 L130.89 44.01 L132.46 42.43 M138.73 33.74 L138.73 44.80 M138.73 38.48 L139.52 36.11 L141.09 34.53 L142.65 33.74 L145.01 33.74 M161.47 28.21 L161.47 44.80 M161.47 28.21 L167.74 44.80 M174.02 28.21 L167.74 44.80 M174.02 28.21 L174.02 44.80 M188.92 33.74 L188.92 44.80 M188.92 36.11 L187.35 34.53 L185.78 33.74 L183.43 33.74 L181.86 34.53 L180.29 36.11 L179.51 38.48 L179.51 40.06 L180.29 42.43 L181.86 44.01 L183.43 44.80 L185.78 44.80 L187.35 44.01 L188.92 42.43 M203.03 36.11 L202.25 34.53 L199.89 33.74 L197.54 33.74 L195.19 34.53 L194.40 36.11 L195.19 37.69 L196.76 38.48 L200.68 39.27 L202.25 40.06 L203.03 41.64 L203.03 42.43 L202.25 44.01 L199.89 44.80 L197.54 44.80 L195.19 44.01 L194.40 42.43 M216.36 36.11 L215.57 34.53 L213.22 33.74 L210.87 33.74 L208.52 34.53 L207.73 36.11 L208.52 37.69 L210.09 38.48 L214.01 39.27 L215.57 40.06 L216.36 41.64 L216.36 42.43 L215.57 44.01 L213.22 44.80 L210.87 44.80 L208.52 44.01 L207.73 42.43 M239.88 25.05 L238.31 26.63 L236.75 29.00 L235.18 32.16 L234.39 36.11 L234.39 39.27 L235.18 43.22 L236.75 46.38 L238.31 48.75 L239.88 50.33 M250.08 28.21 L248.51 28.21 L246.94 29.00 L246.15 31.37 L246.15 44.80 M243.80 33.74 L249.29 33.74 M263.41 33.74 L263.41 44.80 M263.41 36.11 L261.84 34.53 L260.27 33.74 L257.92 33.74 L256.35 34.53 L254.78 36.11 L254.00 38.48 L254.00 40.06 L254.78 42.43 L256.35 44.01 L257.92 44.80 L260.27 44.80 L261.84 44.01 L263.41 42.43 M268.89 28.21 L269.68 29.00 L270.46 28.21 L269.68 27.42 L268.89 28.21 M269.68 33.74 L269.68 44.80 M275.95 33.74 L275.95 44.80 M275.95 36.90 L278.30 34.53 L279.87 33.74 L282.22 33.74 L283.79 34.53 L284.58 36.90 L284.58 44.80 M291.63 28.21 L291.63 41.64 L292.42 44.01 L293.99 44.80 L295.55 44.80 M289.28 33.74 L294.77 33.74 M312.80 28.21 L312.80 44.80 M312.80 44.80 L322.21 44.80 M326.13 28.21 L326.13 44.80 M326.13 28.21 L333.19 28.21 L335.54 29.00 L336.33 29.79 L337.11 31.37 L337.11 32.95 L336.33 34.53 L335.54 35.32 L333.19 36.11 M326.13 36.11 L333.19 36.11 L335.54 36.90 L336.33 37.69 L337.11 39.27 L337.11 41.64 L336.33 43.22 L335.54 44.01 L333.19 44.80 L326.13 44.80 M353.58 32.16 L352.79 30.58 L351.22 29.00 L349.66 28.21 L346.52 28.21 L344.95 29.00 L343.38 30.58 L342.60 32.16 L341.82 34.53 L341.82 38.48 L342.60 40.85 L343.38 42.43 L344.95 44.01 L346.52 44.80 L349.66 44.80 L351.22 44.01 L352.79 42.43 L353.58 40.85 L353.58 38.48 M349.66 38.48 L353.58 38.48 M366.91 36.11 L366.12 34.53 L363.77 33.74 L361.42 33.74 L359.07 34.53 L358.28 36.11 L359.07 37.69 L360.63 38.48 L364.55 39.27 L366.12 40.06 L366.91 41.64 L366.91 42.43 L366.12 44.01 L363.77 44.80 L361.42 44.80 L359.07 44.01 L358.28 42.43 M371.61 25.05 L373.18 26.63 L374.75 29.00 L376.32 32.16 L377.10 36.11 L377.10 39.27 L376.32 43.22 L374.75 46.38 L373.18 48.75 L371.61 50.33" fill="none" stroke="#000" stroke-width="1.80" stroke-linecap="butt" stroke-linejoin="round" />
<path d="M464.80 28.21 L464.80 44.80 M475.82 28.21 L475.82 44.80 M464.80 36.11 L475.82 36.11 M490.77 33.74 L490.77 44.80 M490.77 36.11 L489.19 34.53 L487.62 33.74 L485.26 33.74 L483.69 34.53 L482.11 36.11 L481.33 38.48 L481.33 40.06 L482.11 42.43 L483.69 44.01 L485.26 44.80 L487.62 44.80 L489.19 44.01 L490.77 42.43 M497.06 28.21 L497.06 44.80 M506.51 33.74 L504.93 34.53 L503.36 36.11 L502.57 38.48 L502.57 40.06 L503.36 42.43 L504.93 44.01 L506.51 44.80 L508.87 44.80 L510.44 44.01 L512.01 42.43 L512.80 40.06 L512.80 38.48 L512.01 36.11 L510.44 34.53 L508.87 33.74 L506.51 33.74 M530.90 28.21 L530.90 44.80 M530.90 28.21 L537.20 44.80 M543.49 28.21 L537.20 44.80 M543.49 28.21 L543.49 44.80 M558.44 33.74 L558.44 44.80 M558.44 36.11 L556.87 34.53 L555.29 33.74 L552.93 33.74 L551.36 34.53 L549.79 36.11 L549.00 38.48 L549.00 40.06 L549.79 42.43 L551.36 44.01 L552.93 44.80 L555.29 44.80 L556.87 44.01 L558.44 42.43 M572.61 36.11 L571.82 34.53 L569.46 33.74 L567.10 33.74 L564.74 34.53 L563.95 36.11 L564.74 37.69 L566.31 38.48 L570.25 39.27 L571.82 40.06 L572.61 41.64 L572.61 42.43 L571.82 44.01 L569.46 44.80 L567.10 44.80 L564.74 44.01 L563.95 42.43 M585.98 36.11 L585.20 34.53 L582.84 33.74 L580.48 33.74 L578.11 34.53 L577.33 36.11 L578.11 37.69 L579.69 38.48 L583.62 39.27 L585.20 40.06 L585.98 41.64 L585.98 42.43 L585.20 44.01 L582.84 44.80 L580.48 44.80 L578.11 44.01 L577.33 42.43 M609.59 25.05 L608.02 26.63 L606.44 29.00 L604.87 32.16 L604.08 36.11 L604.08 39.27 L604.87 43.22 L606.44 46.38 L608.02 48.75 L609.59 50.33 M619.82 28.21 L618.25 28.21 L616.67 29.00 L615.89 31.37 L615.89 44.80 M613.53 33.74 L619.03 33.74 M633.20 33.74 L633.20 44.80 M633.20 36.11 L631.62 34.53 L630.05 33.74 L627.69 33.74 L626.12 34.53 L624.54 36.11 L623.76 38.48 L623.76 40.06 L624.54 42.43 L626.12 44.01 L627.69 44.80 L630.05 44.80 L631.62 44.01 L633.20 42.43 M638.71 28.21 L639.49 29.00 L640.28 28.21 L639.49 27.42 L638.71 28.21 M639.49 33.74 L639.49 44.80 M645.79 33.74 L645.79 44.80 M645.79 36.90 L648.15 34.53 L649.72 33.74 L652.08 33.74 L653.66 34.53 L654.44 36.90 L654.44 44.80 M661.53 28.21 L661.53 41.64 L662.31 44.01 L663.89 44.80 L665.46 44.80 M659.17 33.74 L664.67 33.74 M682.77 28.21 L682.77 44.80 M682.77 44.80 L692.22 44.80 M696.15 28.21 L696.15 44.80 M696.15 28.21 L703.23 28.21 L705.59 29.00 L706.38 29.79 L707.17 31.37 L707.17 32.95 L706.38 34.53 L705.59 35.32 L703.23 36.11 M696.15 36.11 L703.23 36.11 L705.59 36.90 L706.38 37.69 L707.17 39.27 L707.17 41.64 L706.38 43.22 L705.59 44.01 L703.23 44.80 L696.15 44.80 M723.69 32.16 L722.91 30.58 L721.33 29.00 L719.76 28.21 L716.61 28.21 L715.04 29.00 L713.46 30.58 L712.68 32.16 L711.89 34.53 L711.89 38.48 L712.68 40.85 L713.46 42.43 L715.04 44.01 L716.61 44.80 L719.76 44.80 L721.33 44.01 L722.91 42.43 L723.69 40.85 L723.69 38.48 M719.76 38.48 L723.69 38.48 M737.07 36.11 L736.28 34.53 L733.92 33.74 L731.56 33.74 L729.20 34.53 L728.41 36.11 L729.20 37.69 L730.77 38.48 L734.71 39.27 L736.28 40.06 L737.07 41.64 L737.07 42.43 L736.28 44.01 L733.92 44.80 L731.56 44.80 L729.20 44.01 L728.41 42.43 M741.79 25.05 L743.37 26.63 L744.94 29.00 L746.51 32.16 L747.30 36.11 L747.30 39.27 L746.51 43.22 L744.94 46.38 L743.37 48.75 L741.79 50.33" fill="none" stroke="#000" stroke-width="1.80" stroke-linecap="butt" stroke-linejoin="round" />
<path d="M67.30 61.75 L65.50 62.40 L64.30 64.33 L63.70 67.56 L63.70 69.49 L64.30 72.72 L65.50 74.65 L67.30 75.30 L68.50 75.30 L70.30 74.65 L71.50 72.72 L72.10 69.49 L72.10 67.56 L71.50 64.33 L70.30 62.40 L68.50 61.75 L67.30 61.75" fill="none" stroke="#000" stroke-width="1.80" stroke-linecap="butt" stroke-linejoin="round" />
<path d="M47.99 126.37 L59.38 126.37 M65.50 121.21 L66.70 120.56 L68.50 118.63 L68.50 132.17" fill="none" stroke="#000" stroke-width="1.80" stroke-linecap="butt" stroke-linejoin="round" />
<path d="M47.99 183.24 L59.38 183.24 M64.30 178.73 L64.30 178.08 L64.90 176.79 L65.50 176.15 L66.70 175.50 L69.10 175.50 L70.30 176.15 L70.90 176.79 L71.50 178.08 L71.50 179.37 L70.90 180.66 L69.70 182.60 L63.70 189.05 L72.10 189.05" fill="none" stroke="#000" stroke-width="1.80" stroke-linecap="butt" stroke-linejoin="round" />
<path d="M47.99 232.30 L59.38 232.30 M64.90 224.56 L71.50 224.56 L67.90 229.72 L69.70 229.72 L70.90 230.36 L71.50 231.01 L72.10 232.94 L72.10 234.23 L71.50 236.17 L70.30 237.46 L68.50 238.10 L66.70 238.10 L64.90 237.46 L64.30 236.81 L63.70 235.52" fill="none" stroke="#000" stroke-width="1.80" stroke-linecap="butt" stroke-linejoin="round" />
<path d="M67.30 243.75 L65.50 244.40 L64.30 246.33 L63.70 249.56 L63.70 251.49 L64.30 254.72 L65.50 256.65 L67.30 257.30 L68.50 257.30 L70.30 256.65 L71.50 254.72 L72.10 251.49 L72.10 249.56 L71.50 246.33 L70.30 244.40 L68.50 243.75 L67.30 243.75" fill="none" stroke="#000" stroke-width="1.80" stroke-linecap="butt" stroke-linejoin="round" />
<path d="M47.99 308.37 L59.38 308.37 M65.50 303.21 L66.70 302.56 L68.50 300.63 L68.50 314.17" fill="none" stroke="#000" stroke-width="1.80" stroke-linecap="butt" stroke-linejoin="round" />
<path d="M47.99 365.24 L59.38 365.24 M64.30 360.73 L64.30 360.08 L64.90 358.79 L65.50 358.15 L66.70 357.50 L69.10 357.50 L70.30 358.15 L70.90 358.79 L71.50 360.08 L71.50 361.37 L70.90 362.66 L69.70 364.60 L63.70 371.05 L72.10 371.05" fill="none" stroke="#000" stroke-width="1.80" stroke-linecap="butt" stroke-linejoin="round" />
<path d="M47.99 414.30 L59.38 414.30 M64.90 406.56 L71.50 406.56 L67.90 411.72 L69.70 411.72 L70.90 412.36 L71.50 413.00 L72.10 414.94 L72.10 416.23 L71.50 418.17 L70.30 419.46 L68.50 420.10 L66.70 420.10 L64.90 419.46 L64.30 418.81 L63.70 417.52" fill="none" stroke="#000" stroke-width="1.80" stroke-linecap="butt" stroke-linejoin="round" />
<path d="M67.30 425.75 L65.50 426.40 L64.30 428.33 L63.70 431.56 L63.70 433.49 L64.30 436.72 L65.50 438.65 L67.30 439.30 L68.50 439.30 L70.30 438.65 L71.50 436.72 L72.10 433.49 L72.10 431.56 L71.50 428.33 L70.30 426.40 L68.50 425.75 L67.30 425.75" fill="none" stroke="#000" stroke-width="1.80" stroke-linecap="butt" stroke-linejoin="round" />
<path d="M47.99 490.37 L59.38 490.37 M65.50 485.21 L66.70 484.56 L68.50 482.63 L68.50 496.17" fill="none" stroke="#000" stroke-width="1.80" stroke-linecap="butt" stroke-linejoin="round" />
<path d="M47.99 547.24 L59.38 547.24 M64.30 542.73 L64.30 542.08 L64.90 540.79 L65.50 540.15 L66.70 539.50 L69.10 539.50 L70.30 540.15 L70.90 540.79 L71.50 542.08 L71.50 543.37 L70.90 544.66 L69.70 546.60 L63.70 553.05 L72.10 553.05" fill="none" stroke="#000" stroke-width="1.80" stroke-linecap="butt" stroke-linejoin="round" />
<path d="M47.99 596.29 L59.38 596.29 M64.90 588.55 L71.50 588.55 L67.90 593.71 L69.70 593.71 L70.90 594.36 L71.50 595.00 L72.10 596.94 L72.10 598.23 L71.50 600.16 L70.30 601.45 L68.50 602.10 L66.70 602.10 L64.90 601.45 L64.30 600.81 L63.70 599.52" fill="none" stroke="#000" stroke-width="1.80" stroke-linecap="butt" stroke-linejoin="round" />
<path d="M448.80 61.75 L447.00 62.40 L445.80 64.33 L445.20 67.56 L445.20 69.49 L445.80 72.72 L447.00 74.65 L448.80 75.30 L450.00 75.30 L451.80 74.65 L453.00 72.72 L453.60 69.49 L453.60 67.56 L453.00 64.33 L451.80 62.40 L450.00 61.75 L448.80 61.75" fill="none" stroke="#000" stroke-width="1.80" stroke-linecap="butt" stroke-linejoin="round" />
<path d="M429.49 126.37 L440.88 126.37 M447.00 121.21 L448.20 120.56 L450.00 118.63 L450.00 132.17" fill="none" stroke="#000" stroke-width="1.80" stroke-linecap="butt" stroke-linejoin="round" />
<path d="M429.49 183.24 L440.88 183.24 M445.80 178.73 L445.80 178.08 L446.40 176.79 L447.00 176.15 L448.20 175.50 L450.60 175.50 L451.80 176.15 L452.40 176.79 L453.00 178.08 L453.00 179.37 L452.40 180.66 L451.20 182.60 L445.20 189.05 L453.60 189.05" fill="none" stroke="#000" stroke-width="1.80" stroke-linecap="butt" stroke-linejoin="round" />
<path d="M429.49 232.30 L440.88 232.30 M446.40 224.56 L453.00 224.56 L449.40 229.72 L451.20 229.72 L452.40 230.36 L453.00 231.01 L453.60 232.94 L453.60 234.23 L453.00 236.17 L451.80 237.46 L450.00 238.10 L448.20 238.10 L446.40 237.46 L445.80 236.81 L445.20 235.52" fill="none" stroke="#000" stroke-width="1.80" stroke-linecap="butt" stroke-linejoin="round" />
<path d="M448.80 243.75 L447.00 244.40 L445.80 246.33 L445.20 249.56 L445.20 251.49 L445.80 254.72 L447.00 256.65 L448.80 257.30 L450.00 257.30 L451.80 256.65 L453.00 254.72 L453.60 251.49 L453.60 249.56 L453.00 246.33 L451.80 244.40 L450.00 243.75 L448.80 243.75" fill="none" stroke="#000" stroke-width="1.80" stroke-linecap="butt" stroke-linejoin="round" />
<path d="M429.49 308.37 L440.88 308.37 M447.00 303.21 L448.20 302.56 L450.00 300.63 L450.00 314.17" fill="none" stroke="#000" stroke-width="1.80" stroke-linecap="butt" stroke-linejoin="round" />
<path d="M429.49 365.24 L440.88 365.24 M445.80 360.73 L445.80 360.08 L446.40 358.79 L447.00 358.15 L448.20 357.50 L450.60 357.50 L451.80 358.15 L452.40 358.79 L453.00 360.08 L453.00 361.37 L452.40 362.66 L451.20 364.60 L445.20 371.05 L453.60 371.05" fill="none" stroke="#000" stroke-width="1.80" stroke-linecap="butt" stroke-linejoin="round" />
<path d="M429.49 414.30 L440.88 414.30 M446.40 406.56 L453.00 406.56 L449.40 411.72 L451.20 411.72 L452.40 412.36 L453.00 413.00 L453.60 414.94 L453.60 416.23 L453.00 418.17 L451.80 419.46 L450.00 420.10 L448.20 420.10 L446.40 419.46 L445.80 418.81 L445.20 417.52" fill="none" stroke="#000" stroke-width="1.80" stroke-linecap="butt" stroke-linejoin="round" />
<path d="M448.80 425.75 L447.00 426.40 L445.80 428.33 L445.20 431.56 L445.20 433.49 L445.80 436.72 L447.00 438.65 L448.80 439.30 L450.00 439.30 L451.80 438.65 L453.00 436.72 L453.60 433.49 L453.60 431.56 L453.00 428.33 L451.80 426.40 L450.00 425.75 L448.80 425.75" fill="none" stroke="#000" stroke-width="1.80" stroke-linecap="butt" stroke-linejoin="round" />
<path d="M429.49 490.37 L440.88 490.37 M447.00 485.21 L448.20 484.56 L450.00 482.63 L450.00 496.17" fill="none" stroke="#000" stroke-width="1.80" stroke-linecap="butt" stroke-linejoin="round" />
<path d="M429.49 547.24 L440.88 547.24 M445.80 542.73 L445.80 542.08 L446.40 540.79 L447.00 540.15 L448.20 539.50 L450.60 539.50 L451.80 540.15 L452.40 540.79 L453.00 542.08 L453.00 543.37 L452.40 544.66 L451.20 546.60 L445.20 553.05 L453.60 553.05" fill="none" stroke="#000" stroke-width="1.80" stroke-linecap="butt" stroke-linejoin="round" />
<path d="M429.49 596.29 L440.88 596.29 M446.40 588.55 L453.00 588.55 L449.40 593.71 L451.20 593.71 L452.40 594.36 L453.00 595.00 L453.60 596.94 L453.60 598.23 L453.00 600.16 L451.80 601.45 L450.00 602.10 L448.20 602.10 L446.40 601.45 L445.80 600.81 L445.20 599.52" fill="none" stroke="#000" stroke-width="1.80" stroke-linecap="butt" stroke-linejoin="round" />
<path d="M121.03 621.67 L120.39 623.61 L119.11 624.90 L117.20 625.54 L116.56 625.54 L114.65 624.90 L113.37 623.61 L112.73 621.67 L112.73 621.03 L113.37 619.09 L114.65 617.80 L116.56 617.16 L117.20 617.16 L119.11 617.80 L120.39 619.09 L121.03 621.67 L121.03 624.90 L120.39 628.12 L119.11 630.06 L117.20 630.70 L115.92 630.70 L114.01 630.06 L113.37 628.77" fill="none" stroke="#000" stroke-width="1.80" stroke-linecap="butt" stroke-linejoin="round" />
<path d="M179.53 619.74 L180.81 619.09 L182.72 617.16 L182.72 630.70 M193.44 617.16 L191.53 617.80 L190.25 619.74 L189.61 622.96 L189.61 624.90 L190.25 628.12 L191.53 630.06 L193.44 630.70 L194.72 630.70 L196.63 630.06 L197.91 628.12 L198.55 624.90 L198.55 622.96 L197.91 619.74 L196.63 617.80 L194.72 617.16 L193.44 617.16" fill="none" stroke="#000" stroke-width="1.80" stroke-linecap="butt" stroke-linejoin="round" />
<path d="M251.61 619.74 L252.88 619.09 L254.80 617.16 L254.80 630.70 M265.00 619.74 L266.28 619.09 L268.19 617.16 L268.19 630.70" fill="none" stroke="#000" stroke-width="1.80" stroke-linecap="butt" stroke-linejoin="round" />
<path d="M323.85 619.74 L325.13 619.09 L327.04 617.16 L327.04 630.70 M334.57 620.38 L334.57 619.74 L335.21 618.45 L335.85 617.80 L337.12 617.16 L339.68 617.16 L340.95 617.80 L341.59 618.45 L342.23 619.74 L342.23 621.03 L341.59 622.32 L340.31 624.25 L333.93 630.70 L342.87 630.70" fill="none" stroke="#000" stroke-width="1.80" stroke-linecap="butt" stroke-linejoin="round" />
<path d="M481.71 619.74 L482.98 619.09 L484.90 617.16 L484.90 630.70 M495.10 619.74 L496.38 619.09 L498.29 617.16 L498.29 630.70" fill="none" stroke="#000" stroke-width="1.80" stroke-linecap="butt" stroke-linejoin="round" />
<path d="M539.59 619.74 L540.87 619.09 L542.78 617.16 L542.78 630.70 M550.31 620.38 L550.31 619.74 L550.95 618.45 L551.59 617.80 L552.86 617.16 L555.42 617.16 L556.69 617.80 L557.33 618.45 L557.97 619.74 L557.97 621.03 L557.33 622.32 L556.05 624.25 L549.67 630.70 L558.61 630.70" fill="none" stroke="#000" stroke-width="1.80" stroke-linecap="butt" stroke-linejoin="round" />
<path d="M597.39 619.74 L598.67 619.09 L600.58 617.16 L600.58 630.70 M608.75 617.16 L615.77 617.16 L611.94 622.32 L613.85 622.32 L615.13 622.96 L615.77 623.61 L616.41 625.54 L616.41 626.83 L615.77 628.77 L614.49 630.06 L612.58 630.70 L610.66 630.70 L608.75 630.06 L608.11 629.41 L607.47 628.12" fill="none" stroke="#000" stroke-width="1.80" stroke-linecap="butt" stroke-linejoin="round" />
<path d="M654.87 619.74 L656.15 619.09 L658.06 617.16 L658.06 630.70 M671.34 617.16 L664.96 626.19 L674.53 626.19 M671.34 617.16 L671.34 630.70" fill="none" stroke="#000" stroke-width="1.80" stroke-linecap="butt" stroke-linejoin="round" />
<path d="M712.99 619.74 L714.27 619.09 L716.18 617.16 L716.18 630.70 M730.73 617.16 L724.35 617.16 L723.71 622.96 L724.35 622.32 L726.26 621.67 L728.18 621.67 L730.09 622.32 L731.37 623.61 L732.01 625.54 L732.01 626.83 L731.37 628.77 L730.09 630.06 L728.18 630.70 L726.26 630.70 L724.35 630.06 L723.71 629.41 L723.07 628.12" fill="none" stroke="#000" stroke-width="1.80" stroke-linecap="butt" stroke-linejoin="round" />
<path d="M98.59 205.30 L106.87 205.30 L102.36 211.36 L104.61 211.36 L106.12 212.12 L106.87 212.87 L107.62 215.14 L107.62 216.66 L106.87 218.93 L105.37 220.44 L103.11 221.20 L100.85 221.20 L98.59 220.44 L97.84 219.69 L97.09 218.17 M124.93 207.57 L112.89 214.39 L124.93 221.20 M138.47 210.60 L130.20 221.20 M130.20 210.60 L138.47 210.60 M130.20 221.20 L138.47 221.20 M155.78 207.57 L143.74 214.39 L155.78 221.20 M168.57 205.30 L161.05 215.90 L172.33 215.90 M168.57 205.30 L168.57 221.20" fill="none" stroke="#000" stroke-width="1.80" stroke-linecap="butt" stroke-linejoin="round" />
<path d="M107.35 252.57 L106.61 251.06 L104.37 250.30 L102.88 250.30 L100.65 251.06 L99.16 253.33 L98.41 257.12 L98.41 260.90 L99.16 263.93 L100.65 265.44 L102.88 266.20 L103.63 266.20 L105.86 265.44 L107.35 263.93 L108.10 261.66 L108.10 260.90 L107.35 258.63 L105.86 257.12 L103.63 256.36 L102.88 256.36 L100.65 257.12 L99.16 258.63 L98.41 260.90 M125.23 252.57 L113.31 259.39 L125.23 266.20 M138.64 255.60 L130.45 266.20 M130.45 255.60 L138.64 255.60 M130.45 266.20 L138.64 266.20 M155.78 252.57 L143.86 259.39 L155.78 266.20 M171.42 250.30 L163.97 266.20 M160.99 250.30 L171.42 250.30" fill="none" stroke="#000" stroke-width="1.80" stroke-linecap="butt" stroke-linejoin="round" />
<path d="M99.60 436.13 L101.09 435.37 L103.33 433.10 L103.33 449.00 M116.74 433.10 L114.50 433.86 L113.01 436.13 L112.27 439.92 L112.27 442.19 L113.01 445.97 L114.50 448.24 L116.74 449.00 L118.23 449.00 L120.46 448.24 L121.95 445.97 L122.70 442.19 L122.70 439.92 L121.95 436.13 L120.46 433.86 L118.23 433.10 L116.74 433.10 M139.83 435.37 L127.91 442.19 L139.83 449.00 M153.24 438.40 L145.05 449.00 M145.05 438.40 L153.24 438.40 M145.05 449.00 L153.24 449.00 M170.38 435.37 L158.46 442.19 L170.38 449.00 M177.83 436.13 L179.32 435.37 L181.55 433.10 L181.55 449.00 M192.73 436.13 L194.22 435.37 L196.45 433.10 L196.45 449.00" fill="none" stroke="#000" stroke-width="1.80" stroke-linecap="butt" stroke-linejoin="round" />
<path d="M477.32 205.30 L485.60 205.30 L481.08 211.36 L483.34 211.36 L484.85 212.12 L485.60 212.87 L486.35 215.14 L486.35 216.66 L485.60 218.93 L484.09 220.44 L481.84 221.20 L479.58 221.20 L477.32 220.44 L476.57 219.69 L475.82 218.17 M503.66 207.57 L491.62 214.39 L503.66 221.20 M517.20 210.60 L508.93 221.20 M508.93 210.60 L517.20 210.60 M508.93 221.20 L517.20 221.20 M534.51 207.57 L522.47 214.39 L534.51 221.20 M547.30 205.30 L539.78 215.90 L551.06 215.90 M547.30 205.30 L547.30 221.20" fill="none" stroke="#000" stroke-width="1.80" stroke-linecap="butt" stroke-linejoin="round" />
<path d="M486.08 252.57 L485.34 251.06 L483.10 250.30 L481.61 250.30 L479.38 251.06 L477.89 253.33 L477.14 257.12 L477.14 260.90 L477.89 263.93 L479.38 265.44 L481.61 266.20 L482.36 266.20 L484.59 265.44 L486.08 263.93 L486.83 261.66 L486.83 260.90 L486.08 258.63 L484.59 257.12 L482.36 256.36 L481.61 256.36 L479.38 257.12 L477.89 258.63 L477.14 260.90 M503.96 252.57 L492.04 259.39 L503.96 266.20 M517.37 255.60 L509.18 266.20 M509.18 255.60 L517.37 255.60 M509.18 266.20 L517.37 266.20 M534.50 252.57 L522.59 259.39 L534.50 266.20 M550.15 250.30 L542.70 266.20 M539.72 250.30 L550.15 250.30" fill="none" stroke="#000" stroke-width="1.80" stroke-linecap="butt" stroke-linejoin="round" />
<path d="M478.33 436.13 L479.82 435.37 L482.06 433.10 L482.06 449.00 M495.47 433.10 L493.23 433.86 L491.74 436.13 L491.00 439.92 L491.00 442.19 L491.74 445.97 L493.23 448.24 L495.47 449.00 L496.96 449.00 L499.19 448.24 L500.68 445.97 L501.43 442.19 L501.43 439.92 L500.68 436.13 L499.19 433.86 L496.96 433.10 L495.47 433.10 M518.56 435.37 L506.64 442.19 L518.56 449.00 M531.97 438.40 L523.77 449.00 M523.77 438.40 L531.97 438.40 M523.77 449.00 L531.97 449.00 M549.11 435.37 L537.19 442.19 L549.11 449.00 M556.56 436.13 L558.05 435.37 L560.28 433.10 L560.28 449.00 M571.46 436.13 L572.95 435.37 L575.18 433.10 L575.18 449.00" fill="none" stroke="#000" stroke-width="1.80" stroke-linecap="butt" stroke-linejoin="round" />
<path d="M246.3 203.7H290" stroke="#ff0c0c" stroke-width="1.6" fill="none"/>
<path d="M246.3 218.3H290" stroke="#0a4cff" stroke-width="1.6" fill="none"/>
<path d="M300.57 199.22 L300.57 207.30 M300.57 199.22 L304.21 199.22 L305.42 199.60 L305.82 199.99 L306.23 200.76 L306.23 201.53 L305.82 202.30 L305.42 202.68 L304.21 203.06 M300.57 203.06 L304.21 203.06 L305.42 203.45 L305.82 203.84 L306.23 204.61 L306.23 205.76 L305.82 206.53 L305.42 206.92 L304.21 207.30 L300.57 207.30 M315.51 197.68 L308.24 210.00 M319.54 199.22 L319.54 207.30 M316.72 199.22 L322.37 199.22 M324.39 200.37 L330.84 203.84 L324.39 207.30 M336.09 199.22 L334.88 199.60 L334.07 200.76 L333.67 202.68 L333.67 203.84 L334.07 205.76 L334.88 206.92 L336.09 207.30 L336.90 207.30 L338.11 206.92 L338.91 205.76 L339.32 203.84 L339.32 202.68 L338.91 200.76 L338.11 199.60 L336.90 199.22 L336.09 199.22 M342.55 206.53 L342.14 206.92 L342.55 207.30 L342.95 206.92 L342.55 206.53 M350.62 199.22 L346.58 199.22 L346.18 202.68 L346.58 202.30 L347.79 201.91 L349.00 201.91 L350.21 202.30 L351.02 203.06 L351.43 204.22 L351.43 204.99 L351.02 206.15 L350.21 206.92 L349.00 207.30 L347.79 207.30 L346.58 206.92 L346.18 206.53 L345.77 205.76" fill="none" stroke="#ff0c0c" stroke-width="2.15" stroke-linecap="butt" stroke-linejoin="round" />
<path d="M300.57 213.81 L300.57 221.90 M300.57 213.81 L304.21 213.81 L305.42 214.20 L305.82 214.59 L306.23 215.36 L306.23 216.12 L305.82 216.90 L305.42 217.28 L304.21 217.66 M300.57 217.66 L304.21 217.66 L305.42 218.05 L305.82 218.44 L306.23 219.21 L306.23 220.36 L305.82 221.13 L305.42 221.52 L304.21 221.90 L300.57 221.90 M315.51 212.28 L308.24 224.59 M319.54 213.81 L319.54 221.90 M316.72 213.81 L322.37 213.81 M330.84 214.97 L324.39 218.44 L330.84 221.90 M336.09 213.81 L334.88 214.20 L334.07 215.36 L333.67 217.28 L333.67 218.44 L334.07 220.36 L334.88 221.52 L336.09 221.90 L336.90 221.90 L338.11 221.52 L338.91 220.36 L339.32 218.44 L339.32 217.28 L338.91 215.36 L338.11 214.20 L336.90 213.81 L336.09 213.81 M342.55 221.13 L342.14 221.52 L342.55 221.90 L342.95 221.52 L342.55 221.13 M350.62 213.81 L346.58 213.81 L346.18 217.28 L346.58 216.90 L347.79 216.51 L349.00 216.51 L350.21 216.90 L351.02 217.66 L351.43 218.82 L351.43 219.59 L351.02 220.75 L350.21 221.52 L349.00 221.90 L347.79 221.90 L346.58 221.52 L346.18 221.13 L345.77 220.36" fill="none" stroke="#0a4cff" stroke-width="2.15" stroke-linecap="butt" stroke-linejoin="round" />
<path d="M6.60 421.00 L23.40 421.00 M12.20 411.37 L13.00 412.97 L14.60 414.58 L17.00 415.38 L18.60 415.38 L21.00 414.58 L22.60 412.97 L23.40 411.37 L23.40 408.96 L22.60 407.35 L21.00 405.75 L18.60 404.94 L17.00 404.94 L14.60 405.75 L13.00 407.35 L12.20 408.96 L12.20 411.37 M12.20 390.49 L25.00 390.49 L27.40 391.30 L28.20 392.10 L29.00 393.70 L29.00 396.11 L28.20 397.72 M14.60 390.49 L13.00 392.10 L12.20 393.70 L12.20 396.11 L13.00 397.72 L14.60 399.32 L17.00 400.13 L18.60 400.13 L21.00 399.32 L22.60 397.72 L23.40 396.11 L23.40 393.70 L22.60 392.10 L21.00 390.49 M3.40 378.45 L5.00 380.06 L7.40 381.66 L10.60 383.27 L14.60 384.07 L17.80 384.07 L21.80 383.27 L25.00 381.66 L27.40 380.06 L29.00 378.45 M6.60 372.83 L23.40 372.83 M6.60 372.83 L6.60 362.39 M14.60 372.83 L14.60 366.41 M6.60 358.38 L23.40 358.38 M6.60 358.38 L6.60 351.15 L7.40 348.75 L8.20 347.94 L9.80 347.14 L11.40 347.14 L13.00 347.94 L13.80 348.75 L14.60 351.15 L14.60 358.38 M14.60 352.76 L23.40 347.14 M6.60 337.51 L23.40 343.93 M6.60 337.51 L23.40 331.08 M17.80 341.52 L17.80 333.49 M10.60 315.83 L9.00 316.63 L7.40 318.24 L6.60 319.84 L6.60 323.05 L7.40 324.66 L9.00 326.27 L10.60 327.07 L13.00 327.87 L17.00 327.87 L19.40 327.07 L21.00 326.27 L22.60 324.66 L23.40 323.05 L23.40 319.84 L22.60 318.24 L21.00 316.63 L19.40 315.83 M6.60 307.00 L23.40 307.00 M6.60 312.62 L6.60 301.38 M6.60 297.36 L23.40 297.36 M6.60 286.93 L7.40 288.53 L9.00 290.14 L10.60 290.94 L13.00 291.74 L17.00 291.74 L19.40 290.94 L21.00 290.14 L22.60 288.53 L23.40 286.93 L23.40 283.72 L22.60 282.11 L21.00 280.50 L19.40 279.70 L17.00 278.90 L13.00 278.90 L10.60 279.70 L9.00 280.50 L7.40 282.11 L6.60 283.72 L6.60 286.93 M6.60 273.28 L23.40 273.28 M6.60 273.28 L23.40 262.04 M6.60 262.04 L23.40 262.04 M3.40 256.42 L5.00 254.81 L7.40 253.21 L10.60 251.60 L14.60 250.80 L17.80 250.80 L21.80 251.60 L25.00 253.21 L27.40 254.81 L29.00 256.42" fill="none" stroke="#000" stroke-width="1.80" stroke-linecap="butt" stroke-linejoin="round"/>
<path d="M394.20 421.00 L411.00 421.00 M399.80 411.37 L400.60 412.97 L402.20 414.58 L404.60 415.38 L406.20 415.38 L408.60 414.58 L410.20 412.97 L411.00 411.37 L411.00 408.96 L410.20 407.35 L408.60 405.75 L406.20 404.94 L404.60 404.94 L402.20 405.75 L400.60 407.35 L399.80 408.96 L399.80 411.37 M399.80 390.49 L412.60 390.49 L415.00 391.30 L415.80 392.10 L416.60 393.70 L416.60 396.11 L415.80 397.72 M402.20 390.49 L400.60 392.10 L399.80 393.70 L399.80 396.11 L400.60 397.72 L402.20 399.32 L404.60 400.13 L406.20 400.13 L408.60 399.32 L410.20 397.72 L411.00 396.11 L411.00 393.70 L410.20 392.10 L408.60 390.49 M391.00 378.45 L392.60 380.06 L395.00 381.66 L398.20 383.27 L402.20 384.07 L405.40 384.07 L409.40 383.27 L412.60 381.66 L415.00 380.06 L416.60 378.45 M394.20 372.83 L411.00 372.83 M394.20 372.83 L394.20 362.39 M402.20 372.83 L402.20 366.41 M394.20 358.38 L411.00 358.38 M394.20 358.38 L394.20 351.15 L395.00 348.75 L395.80 347.94 L397.40 347.14 L399.00 347.14 L400.60 347.94 L401.40 348.75 L402.20 351.15 L402.20 358.38 M402.20 352.76 L411.00 347.14 M394.20 337.51 L411.00 343.93 M394.20 337.51 L411.00 331.08 M405.40 341.52 L405.40 333.49 M398.20 315.83 L396.60 316.63 L395.00 318.24 L394.20 319.84 L394.20 323.05 L395.00 324.66 L396.60 326.27 L398.20 327.07 L400.60 327.87 L404.60 327.87 L407.00 327.07 L408.60 326.27 L410.20 324.66 L411.00 323.05 L411.00 319.84 L410.20 318.24 L408.60 316.63 L407.00 315.83 M394.20 307.00 L411.00 307.00 M394.20 312.62 L394.20 301.38 M394.20 297.36 L411.00 297.36 M394.20 286.93 L395.00 288.53 L396.60 290.14 L398.20 290.94 L400.60 291.74 L404.60 291.74 L407.00 290.94 L408.60 290.14 L410.20 288.53 L411.00 286.93 L411.00 283.72 L410.20 282.11 L408.60 280.50 L407.00 279.70 L404.60 278.90 L400.60 278.90 L398.20 279.70 L396.60 280.50 L395.00 282.11 L394.20 283.72 L394.20 286.93 M394.20 273.28 L411.00 273.28 M394.20 273.28 L411.00 262.04 M394.20 262.04 L411.00 262.04 M391.00 256.42 L392.60 254.81 L395.00 253.21 L398.20 251.60 L402.20 250.80 L405.40 250.80 L409.40 251.60 L412.60 253.21 L415.00 254.81 L416.60 256.42" fill="none" stroke="#000" stroke-width="1.80" stroke-linecap="butt" stroke-linejoin="round"/>
<path d="M156.80 641.67 L156.80 654.80 M164.13 646.05 L162.91 646.67 L161.68 647.92 L161.07 649.80 L161.07 651.05 L161.68 652.92 L162.91 654.17 L164.13 654.80 L165.96 654.80 L167.18 654.17 L168.40 652.92 L169.01 651.05 L169.01 649.80 L168.40 647.92 L167.18 646.67 L165.96 646.05 L164.13 646.05 M180.00 646.05 L180.00 656.05 L179.39 657.92 L178.78 658.55 L177.56 659.17 L175.73 659.17 L174.51 658.55 M180.00 647.92 L178.78 646.67 L177.56 646.05 L175.73 646.05 L174.51 646.67 L173.28 647.92 L172.67 649.80 L172.67 651.05 L173.28 652.92 L174.51 654.17 L175.73 654.80 L177.56 654.80 L178.78 654.17 L180.00 652.92" fill="none" stroke="#000" stroke-width="1.80" stroke-linecap="butt" stroke-linejoin="round" />
<path d="M189.50 639.17 L188.36 640.42 L187.21 642.30 L186.07 644.80 L185.50 647.92 L185.50 650.42 L186.07 653.55 L187.21 656.05 L188.36 657.92 L189.50 659.17" fill="none" stroke="#000" stroke-width="1.80" stroke-linecap="butt" stroke-linejoin="round" />
<path d="M193.90 641.67 L193.90 654.80 M193.90 641.67 L199.00 654.80 M204.10 641.67 L199.00 654.80 M204.10 641.67 L204.10 654.80" fill="none" stroke="#000" stroke-width="1.80" stroke-linecap="butt" stroke-linejoin="round"/>
<path d="M213.30 652.40V659.80 M210.10 654.20L216.50 658.00 M216.50 654.20L210.10 658.00" stroke="#000" stroke-width="1.6" stroke-linecap="butt" fill="none"/>
<path d="M229.48 639.17 L217.60 659.17 M233.44 641.67 L233.44 654.80 M233.44 648.55 L235.42 646.67 L236.74 646.05 L238.72 646.05 L240.04 646.67 L240.70 648.55 L240.70 654.80" fill="none" stroke="#000" stroke-width="1.80" stroke-linecap="butt" stroke-linejoin="round" />
<path d="M244.90 641.9H252.80" stroke="#000" stroke-width="1.7" stroke-linecap="butt" fill="none"/>
<path d="M255.90 638.9L256.80 638.4L258.20 637.3V645.5" stroke="#000" stroke-width="1.7" stroke-linecap="butt" stroke-linejoin="round" fill="none"/>
<path d="M263.40 641.67 L263.40 654.80 M263.40 641.67 L268.50 654.80 M273.60 641.67 L268.50 654.80 M273.60 641.67 L273.60 654.80" fill="none" stroke="#000" stroke-width="1.80" stroke-linecap="butt" stroke-linejoin="round"/>
<circle cx="281.60" cy="656.2" r="3.5" fill="none" stroke="#000" stroke-width="1.6"/>
<circle cx="281.60" cy="656.2" r="1.1" fill="#000"/>
<path d="M288.80 639.17 L289.94 640.42 L291.09 642.30 L292.23 644.80 L292.80 647.92 L292.80 650.42 L292.23 653.55 L291.09 656.05 L289.94 657.92 L288.80 659.17" fill="none" stroke="#000" stroke-width="1.80" stroke-linecap="butt" stroke-linejoin="round" />
<path d="M530.50 641.67 L530.50 654.80 M537.83 646.05 L536.61 646.67 L535.38 647.92 L534.77 649.80 L534.77 651.05 L535.38 652.92 L536.61 654.17 L537.83 654.80 L539.66 654.80 L540.88 654.17 L542.10 652.92 L542.71 651.05 L542.71 649.80 L542.10 647.92 L540.88 646.67 L539.66 646.05 L537.83 646.05 M553.70 646.05 L553.70 656.05 L553.09 657.92 L552.48 658.55 L551.26 659.17 L549.43 659.17 L548.21 658.55 M553.70 647.92 L552.48 646.67 L551.26 646.05 L549.43 646.05 L548.21 646.67 L546.98 647.92 L546.37 649.80 L546.37 651.05 L546.98 652.92 L548.21 654.17 L549.43 654.80 L551.26 654.80 L552.48 654.17 L553.70 652.92" fill="none" stroke="#000" stroke-width="1.80" stroke-linecap="butt" stroke-linejoin="round" />
<path d="M563.20 639.17 L562.06 640.42 L560.91 642.30 L559.77 644.80 L559.20 647.92 L559.20 650.42 L559.77 653.55 L560.91 656.05 L562.06 657.92 L563.20 659.17" fill="none" stroke="#000" stroke-width="1.80" stroke-linecap="butt" stroke-linejoin="round" />
<path d="M568.70 641.67 L568.70 654.80 M568.70 641.67 L573.80 654.80 M578.90 641.67 L573.80 654.80 M578.90 641.67 L578.90 654.80" fill="none" stroke="#000" stroke-width="1.80" stroke-linecap="butt" stroke-linejoin="round"/>
<path d="M583.35 652.11 L583.35 660.30 M583.35 656.40 L584.58 655.23 L585.40 654.84 L586.63 654.84 L587.45 655.23 L587.86 656.40 L587.86 660.30 M595.66 654.84 L595.66 660.30 M595.66 656.01 L594.84 655.23 L594.02 654.84 L592.79 654.84 L591.97 655.23 L591.15 656.01 L590.74 657.18 L590.74 657.96 L591.15 659.13 L591.97 659.91 L592.79 660.30 L594.02 660.30 L594.84 659.91 L595.66 659.13 M598.94 652.11 L598.94 660.30 M603.87 654.84 L603.05 655.23 L602.23 656.01 L601.82 657.18 L601.82 657.96 L602.23 659.13 L603.05 659.91 L603.87 660.30 L605.10 660.30 L605.92 659.91 L606.74 659.13 L607.15 657.96 L607.15 657.18 L606.74 656.01 L605.92 655.23 L605.10 654.84 L603.87 654.84" fill="none" stroke="#000" stroke-width="1.90" stroke-linecap="butt" stroke-linejoin="round" />
<path d="M618.98 639.17 L607.10 659.17 M622.94 641.67 L622.94 654.80 M622.94 648.55 L624.92 646.67 L626.24 646.05 L628.22 646.05 L629.54 646.67 L630.20 648.55 L630.20 654.80" fill="none" stroke="#000" stroke-width="1.80" stroke-linecap="butt" stroke-linejoin="round" />
<path d="M634.40 641.9H642.30" stroke="#000" stroke-width="1.7" stroke-linecap="butt" fill="none"/>
<path d="M645.40 638.9L646.30 638.4L647.70 637.3V645.5" stroke="#000" stroke-width="1.7" stroke-linecap="butt" stroke-linejoin="round" fill="none"/>
<path d="M652.90 641.67 L652.90 654.80 M652.90 641.67 L658.00 654.80 M663.10 641.67 L658.00 654.80 M663.10 641.67 L663.10 654.80" fill="none" stroke="#000" stroke-width="1.80" stroke-linecap="butt" stroke-linejoin="round"/>
<circle cx="671.10" cy="656.2" r="3.5" fill="none" stroke="#000" stroke-width="1.6"/>
<circle cx="671.10" cy="656.2" r="1.1" fill="#000"/>
<path d="M678.30 639.17 L679.44 640.42 L680.59 642.30 L681.73 644.80 L682.30 647.92 L682.30 650.42 L681.73 653.55 L680.59 656.05 L679.44 657.92 L678.30 659.17" fill="none" stroke="#000" stroke-width="1.80" stroke-linecap="butt" stroke-linejoin="round" />
</svg>
</body></html>
